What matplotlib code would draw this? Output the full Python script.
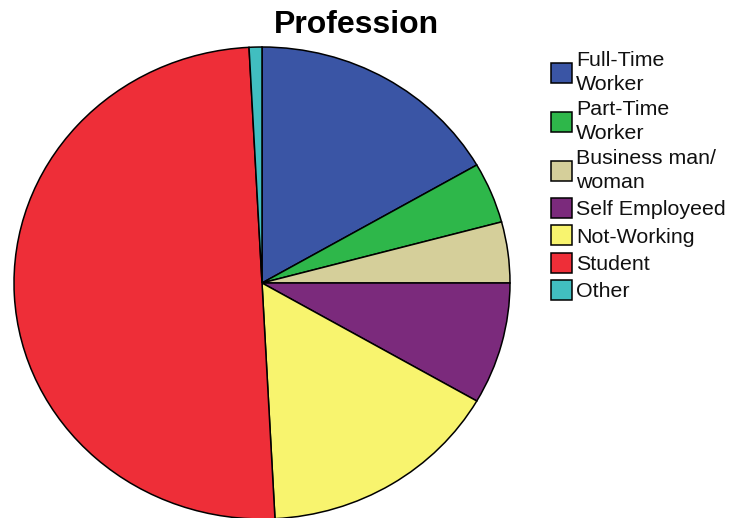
import matplotlib.pyplot as plt

# respondents per profession
categories = ["Full-Time\nWorker", "Part-Time\nWorker", "Business man/\nwoman",
              "Self Employeed", "Not-Working", "Student", "Other"]
counts = [20, 5, 5, 10, 19, 60, 1]
colours = ["#3A55A5", "#2EB74A", "#D5CF9A", "#7B2A7C", "#F8F46E", "#EE2E38", "#41BEC0"]

plt.rcParams['font.family'] = ['Liberation Sans', 'DejaVu Sans']

fig = plt.figure(figsize=(7.34, 5.18), dpi=100)
W, H = 734, 518

# pie area (slightly wider than tall, like the original export)
ax = fig.add_axes([14 / W, (H - 519) / H, 496 / W, 472 / H])
wedges, _ = ax.pie(counts, colors=colours, startangle=90, counterclock=False,
                   wedgeprops=dict(edgecolor="black", linewidth=1.1))
ax.set_aspect('auto')
ax.set_xlim(-1, 1)
ax.set_ylim(-1, 1)
ax.axis('off')

fig.text(356 / W, 1 - 25 / H, "Profession", ha='center', va='center',
         fontsize=23, fontweight='bold')

leg = fig.legend(wedges, categories, loc='upper left',
                 bbox_to_anchor=(551 / W, 1 - 51 / H),
                 frameon=False, fontsize=15.4, handlelength=0.98, handleheight=1.05,
                 handletextpad=0.2, labelspacing=0.29, borderaxespad=0, borderpad=0)
for t in leg.get_texts():
    t.set_linespacing(1.32)
    t.set_color("#111111")

fig.savefig("out.png", dpi=100)
